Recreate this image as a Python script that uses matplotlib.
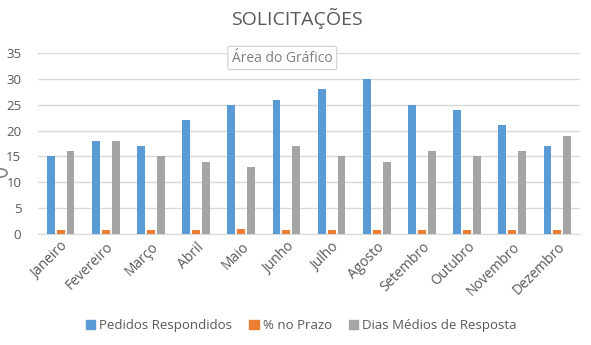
import matplotlib.pyplot as plt
import matplotlib.patches as mpatches
import numpy as np

meses = ['Janeiro', 'Fevereiro', 'Março', 'Abril', 'Maio', 'Junho', 'Julho',
         'Agosto', 'Setembro', 'Outubro', 'Novembro', 'Dezembro']
pedidos = [15, 18, 17, 22, 25, 26, 28, 30, 25, 24, 21, 17]
no_prazo = [0.8, 0.8, 0.8, 0.8, 1.0, 0.8, 0.8, 0.8, 0.8, 0.8, 0.8, 0.8]
dias_medios = [16, 18, 15, 14, 13, 17, 15, 14, 16, 15, 16, 19]

series = [('Pedidos Respondidos', pedidos, '#5B9BD5'),
          ('% no Prazo', no_prazo, '#ED7D31'),
          ('Dias Médios de Resposta', dias_medios, '#A5A5A5')]

plt.rcParams['font.family'] = ['Open Sans', 'DejaVu Sans']
txt = '#595959'

fig = plt.figure(figsize=(5.91, 3.45), dpi=100)
ax = fig.add_axes([38/591, 1-234/345, 542/591, 181/345])

x = np.arange(len(meses))
w = 0.175
for i, (nome, vals, cor) in enumerate(series):
    ax.bar(x + (i-1)*0.22, vals, w, color=cor, label=nome, zorder=3)

ax.set_xlim(-0.5, 11.5)
ax.set_ylim(0, 35)
ax.set_yticks(range(0, 36, 5))
ax.grid(axis='y', color='#d9d9d9', linewidth=1, zorder=0)
for s in ['top', 'right', 'left']:
    ax.spines[s].set_visible(False)
ax.spines['bottom'].set_color('#d9d9d9')
ax.tick_params(length=0, colors=txt, labelsize=9.5)
ax.tick_params(axis='y', pad=12)
ax.tick_params(axis='x', pad=4, labelsize=10)
ax.set_xticks(x)
ax.set_xticklabels(meses, rotation=45, ha='right', rotation_mode='anchor')
for lab in ax.get_xticklabels():
    lab.set_color(txt)

fig.text(0.503, 0.945, 'SOLICITAÇÕES', ha='center', va='center',
         fontsize=14, color=txt)

handles = [mpatches.Patch(color=c) for _, _, c in series]
fig.legend(handles, [n for n, _, _ in series], loc='center', ncol=3,
           bbox_to_anchor=(0.51, 0.057), frameon=False, fontsize=9.5,
           labelcolor=txt, handlelength=0.7, handleheight=0.7,
           handletextpad=0.3, columnspacing=1.3)

# tooltip que aparece na captura
fig.text(232/591, 1-58/345, 'Área do Gráfico', ha='left', va='center',
         fontsize=10, color='#7f7f7f',
         bbox=dict(boxstyle='round,pad=0.3,rounding_size=0.15', fc='white',
                   ec='#d0d0d0', lw=0.8))

fig.patches.append(mpatches.Circle((0, 172/345), 0.012, transform=fig.transFigure,
                                   fc='white', ec='#7f7f7f', lw=1.2))

fig.savefig('out.png', dpi=100)
